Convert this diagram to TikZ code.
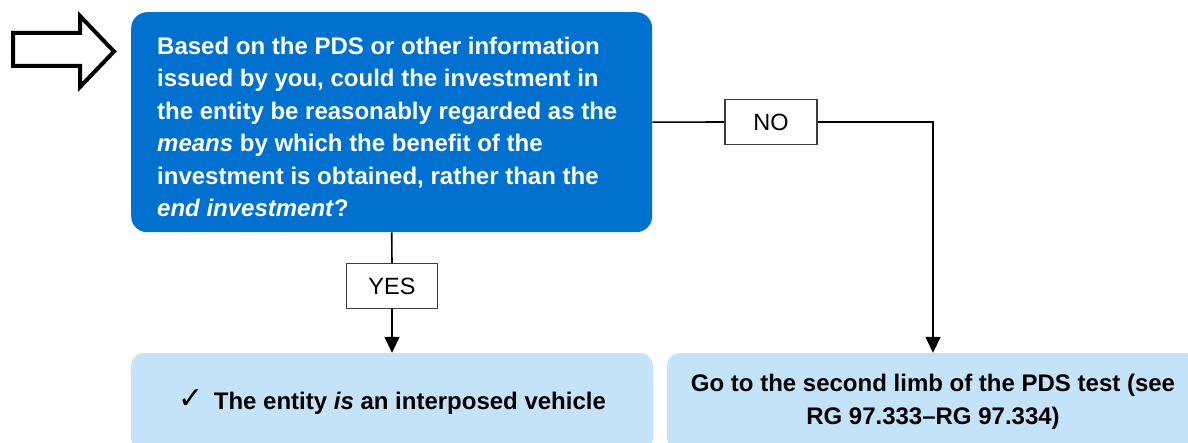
\documentclass[tikz,border=0pt]{standalone}
\usepackage{fontspec}
\setmainfont{Liberation Sans}
\newfontfamily\symfont{DejaVu Sans}
\usetikzlibrary{arrows.meta}
\definecolor{mainblue}{RGB}{0,113,206}
\definecolor{lightblue}{RGB}{197,227,248}
\definecolor{lblborder}{RGB}{60,60,60}
\tikzset{
  qbox/.style={fill=mainblue, rounded corners=16pt, anchor=north west, inner sep=0pt, minimum width=521pt, minimum height=220pt},
  qtext/.style={text=white, font=\fontsize{24}{32.5}\selectfont\bfseries, align=left, anchor=north west, inner sep=0pt},
  resbox/.style={fill=lightblue, rounded corners=13pt, inner sep=0pt, minimum height=98pt, font=\fontsize{24}{33}\selectfont\bfseries, align=center, text=black},
  lbl/.style={draw=lblborder, line width=1.1pt, fill=white, inner sep=0pt, minimum height=45pt, font=\fontsize{23.5}{28}\selectfont},
  conn/.style={line width=1.6pt, draw=black},
  arr/.style={conn, -{Triangle[width=15pt,length=16pt]}},
  bigarrow/.style={draw=black, line width=4pt, fill=white, line join=miter}
}
\begin{document}
\begin{tikzpicture}[x=1pt,y=-1pt]
\useasboundingbox (0,0) rectangle (1188,443);
\clip (0,0) rectangle (1188,443);
% entry arrow
\draw[bigarrow] (13,33) -- (80,33) -- (80,16) -- (114,51.5) -- (80,87) -- (80,66) -- (13,66) -- cycle;
% question box
\node[qbox] (q) at (131,12) {};
\node[qtext] (qt) at (157,36.5) {Based on the PDS or other information\\
issued by you, could the investment in\\
the entity be reasonably regarded as the\\
\emph{means} by which the benefit of the\\
investment is obtained, rather than the\\
\emph{end investment}?};
% result boxes
\node[resbox, minimum width=522pt] (l) at (392,402) {\raisebox{1pt}{\symfont\fontsize{30}{30}\selectfont ✓}\, The entity \emph{is} an interposed vehicle};
\node[resbox, minimum width=532pt] (r) at (933,402) {Go to the second limb of the PDS test (see\\RG 97.333–RG 97.334)};
% labels
\node[lbl, minimum width=91pt] (yes) at (392,286) {YES};
\node[lbl, minimum width=92pt] (no) at (771,122) {NO};
% connectors
\draw[conn] (q.south) -- (yes.north);
\draw[arr] (yes.south) -- (l.north);
\draw[conn] (q.east) -- (no.west);
\draw[arr] (no.east) -| (r.north);
\end{tikzpicture}
\end{document}
